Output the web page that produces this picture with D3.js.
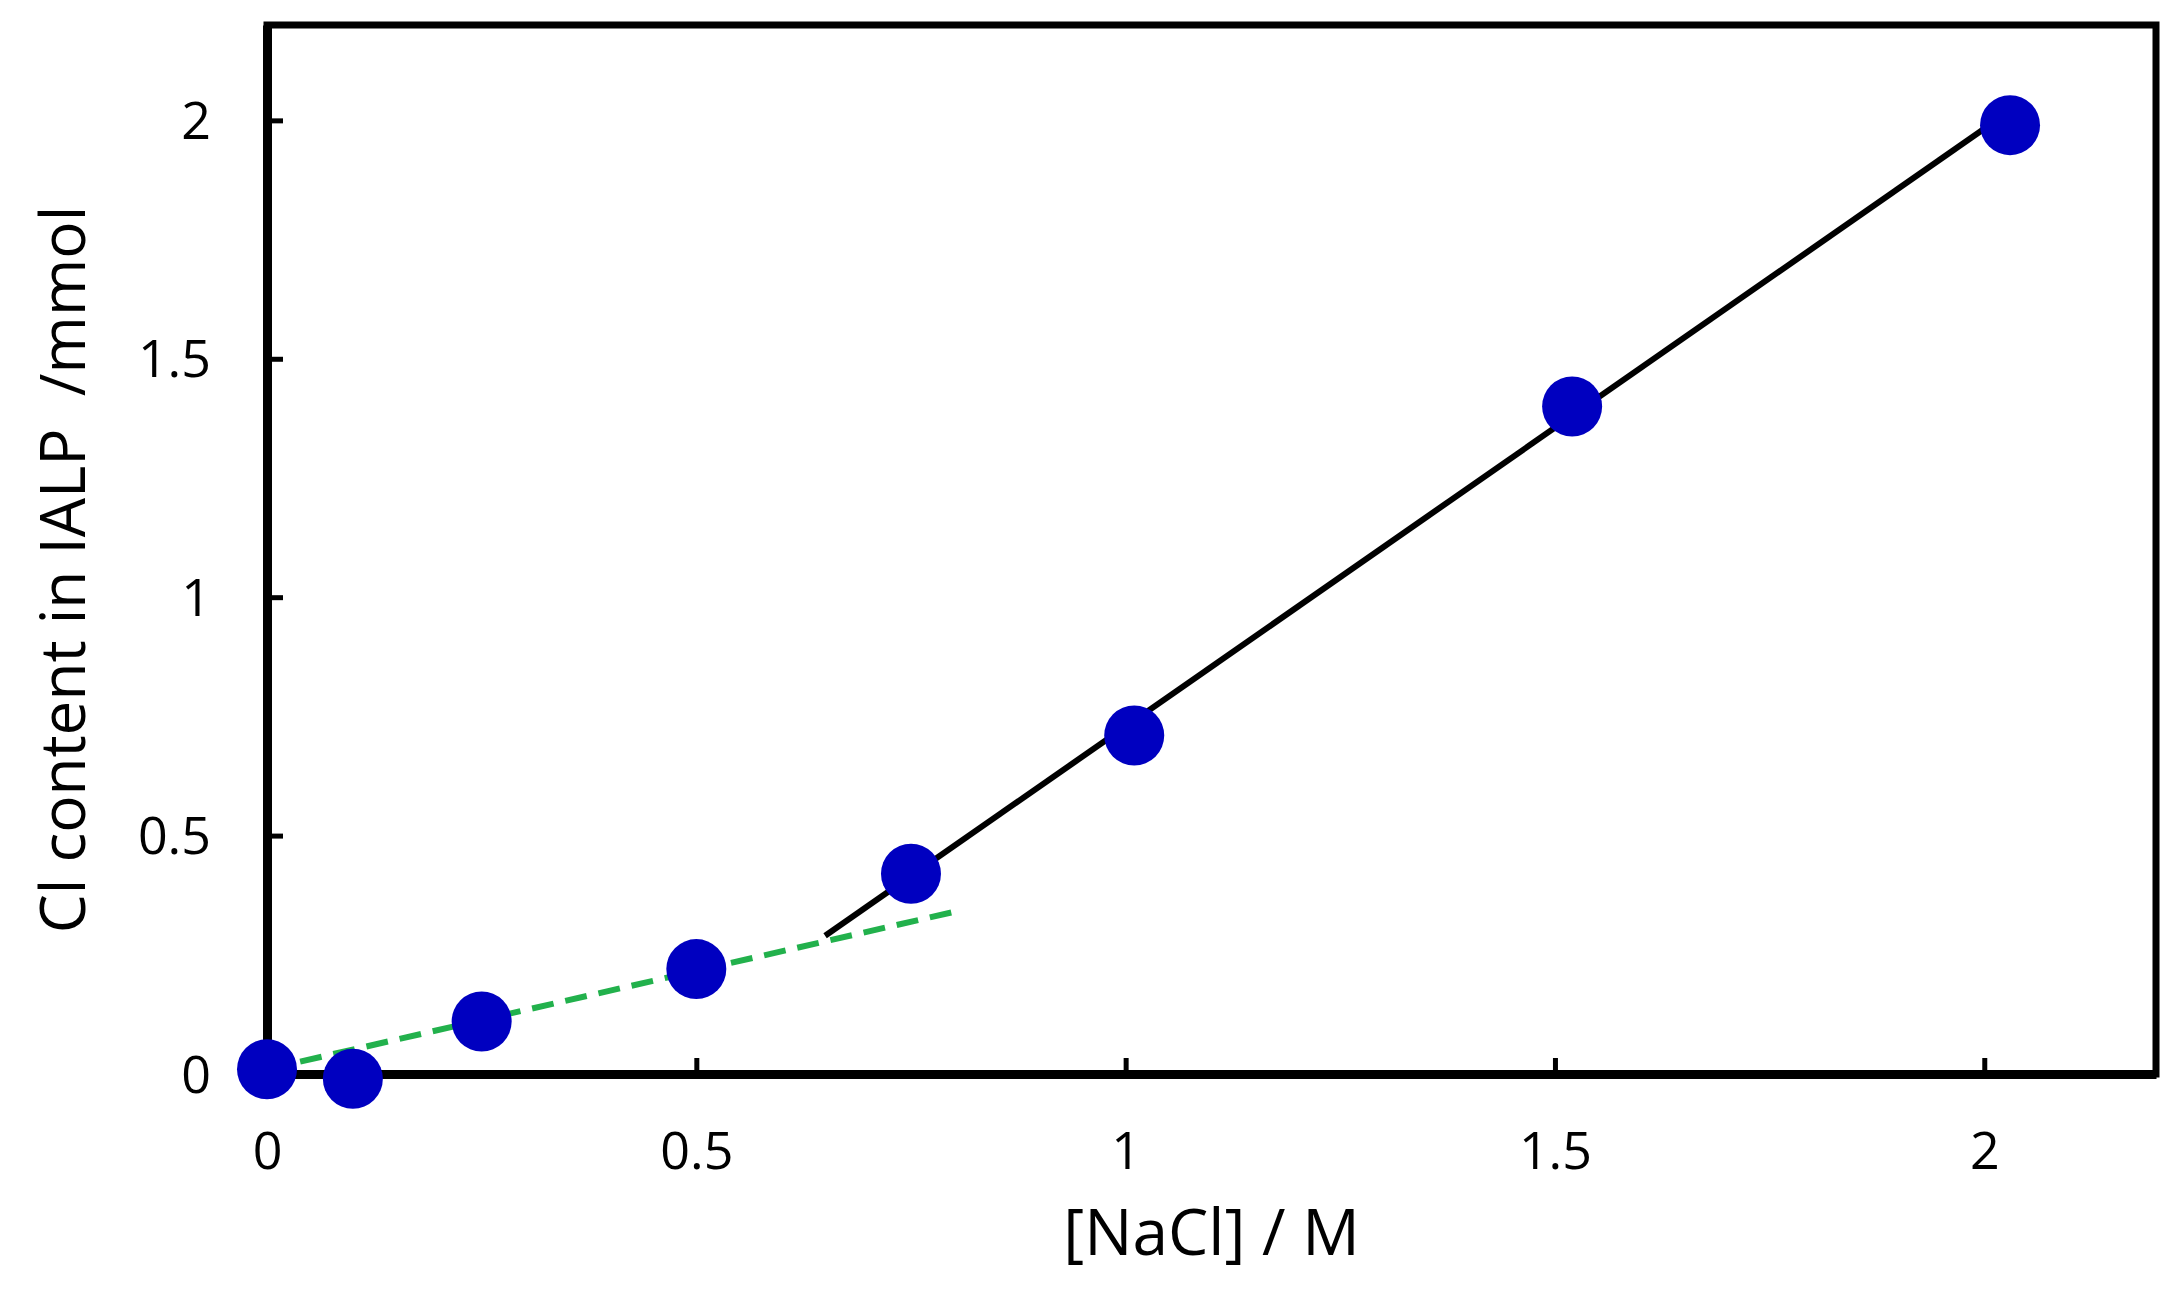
<!DOCTYPE html><html><head><meta charset="utf-8">
<script src="https://d3js.org/d3.v7.min.js"></script>
<style>body{margin:0;background:#fff}text{font-family:"Open Sans",sans-serif}</style></head><body>
<svg id="c" width="2184" height="1297"></svg>
<script>
const xs=[0,0.1,0.25,0.5,0.75,1.01,1.52,2.03];
const ys=[0.01,-0.01,0.11,0.22,0.42,0.71,1.40,1.99];
const fitHigh=[[0.65,0.29],[2.03,2.02]];
const fitLow=[[0,0.01],[0.8,0.34]];
const ticks=[0,0.5,1,1.5,2];
const svg=d3.select("#c");
const L=267,R=2156,T=25,B=1074;
const x=d3.scaleLinear().domain([0,2.2]).range([L,R]);
const y=d3.scaleLinear().domain([0,2.2]).range([B,T]);
svg.append("rect").attr("x",L).attr("y",T).attr("width",R-L).attr("height",B-T).attr("fill","none").attr("stroke","#000").attr("stroke-width",7);
const gx=svg.append("g").attr("transform",`translate(0,${B})`).call(d3.axisBottom(x).tickValues(ticks).tickFormat(d3.format("")).tickSizeInner(-16).tickSizeOuter(0).tickPadding(58));
const gy=svg.append("g").attr("transform",`translate(${L},0)`).call(d3.axisLeft(y).tickValues(ticks).tickFormat(d3.format("")).tickSizeInner(-16).tickSizeOuter(0).tickPadding(56));
[gx,gy].forEach(g=>{g.select(".domain").attr("stroke-width",9);g.selectAll(".tick line").attr("stroke-width",5);g.selectAll("text").attr("font-size",52).attr("fill","#000").style("font-family","'Open Sans',sans-serif");});
gy.selectAll("text").attr("dy","0.35em");
const line=d3.line().x(d=>x(d[0])).y(d=>y(d[1]));
svg.append("path").attr("d",line(fitLow)).attr("stroke","#22b14c").attr("stroke-width",6).attr("stroke-dasharray","22,12").attr("fill","none");
svg.append("path").attr("d",line(fitHigh)).attr("stroke","#000").attr("stroke-width",6).attr("fill","none");
svg.selectAll("circle.p").data(xs).enter().append("circle").attr("cx",d=>x(d)).attr("cy",(d,i)=>y(ys[i])).attr("r",30).attr("fill","#0000c0");
svg.append("text").attr("x",(L+R)/2).attr("y",1255).attr("text-anchor","middle").attr("font-size",64).text("[NaCl] / M");
svg.append("text").attr("transform",`translate(85,${(T+B)/2+20}) rotate(-90)`).attr("text-anchor","middle").attr("font-size",62).attr("xml:space","preserve").text("Cl content in IALP  /mmol");
</script></body></html>
